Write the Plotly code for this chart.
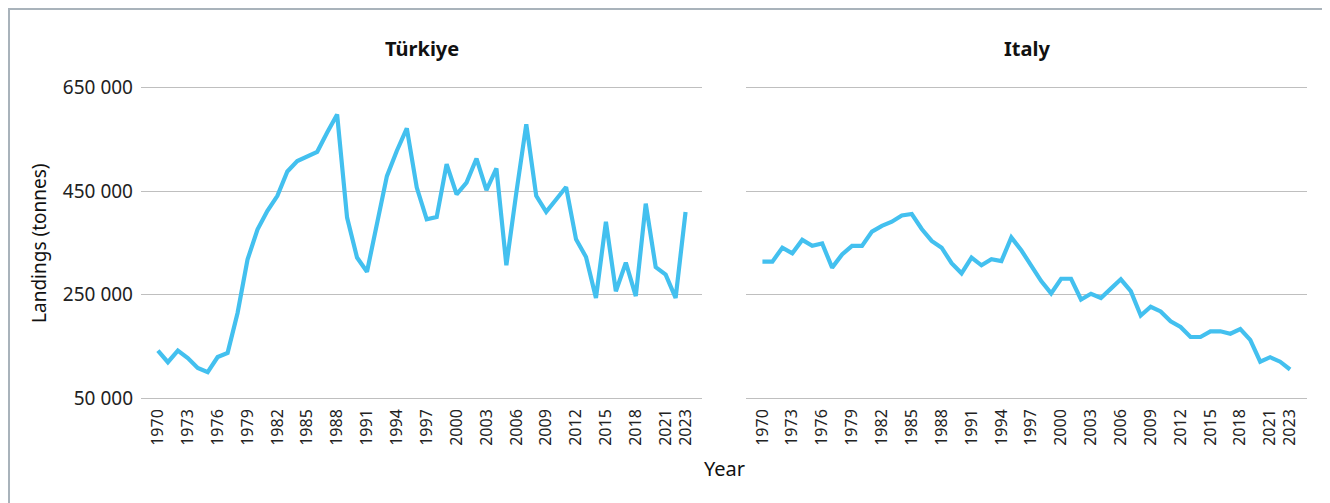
import plotly.graph_objects as go
from plotly.subplots import make_subplots

years = list(range(1970, 2024))

turkiye = [142500, 120000, 142500, 128000, 109000, 100700, 130000, 138000, 215000, 318000,
           376000, 412000, 441000, 488000, 508000, 516000, 526000, 563000, 598000, 399000,
           322000, 294500, 386000, 479000, 528000, 571000, 457000, 395600, 400000, 502000,
           444000, 466500, 513000, 452000, 494000, 307000, 447000, 579000, 441000, 410000,
           434000, 458000, 357000, 323000, 244000, 391000, 257000, 312000, 247500, 426000,
           303500, 289000, 244000, 410000]

italy = [314000, 314000, 341000, 330000, 356000, 344500, 349000, 302500, 328000, 344500,
         344500, 372000, 383000, 391000, 403000, 406000, 377000, 354000, 341000, 311000,
         291500, 322000, 307000, 318700, 315000, 360700, 336000, 307000, 276600, 252700,
         281000, 281000, 241000, 252000, 244000, 262000, 280000, 257000, 210000, 227000,
         218000, 199000, 188000, 168600, 168600, 179600, 179600, 175000, 184000, 163000,
         121000, 129700, 121000, 106000]

panel_titles = ["Türkiye", "Italy"]
year_ticks = list(range(1970, 2022, 3)) + [2023]
y_ticks = [50000, 250000, 450000, 650000]
y_labels = ["50 000", "250 000", "450 000", "650 000"]

line_color = "#43C0EF"
grid_color = "#BFBFBF"
font = "Noto Sans, Open Sans, sans-serif"

fig = make_subplots(rows=1, cols=2, horizontal_spacing=0.0369)

fig.add_trace(go.Scatter(x=years, y=turkiye, mode="lines",
                         line=dict(color=line_color, width=4.2)), row=1, col=1)
fig.add_trace(go.Scatter(x=years, y=italy, mode="lines",
                         line=dict(color=line_color, width=4.2)), row=1, col=2)

for c in (1, 2):
    fig.update_xaxes(range=[1968.3, 2024.7], tickvals=year_ticks, tickangle=-90,
                     showgrid=False, zeroline=False, showline=False,
                     tickfont=dict(size=16, color="#222222", family=font),
                     ticklabelstandoff=5, row=1, col=c)
    # a little padding so the 50 000 / 650 000 grid lines are still drawn
    fig.update_yaxes(range=[47100, 652900], tickvals=y_ticks, ticktext=y_labels,
                     showgrid=True, gridcolor=grid_color, gridwidth=1.3,
                     zeroline=False, showline=False,
                     showticklabels=(c == 1),
                     tickfont=dict(size=19, color="#222222", family=font),
                     ticklabelstandoff=7, row=1, col=c)

# panel titles
centers = [0.482 / 2, (0.5189 + 1) / 2]
for t, cx in zip(panel_titles, centers):
    fig.add_annotation(text="<b>" + t + "</b>", x=cx, y=1.118, xref="paper", yref="paper",
                       xanchor="center", yanchor="middle", showarrow=False,
                       font=dict(size=20, color="#111111", family=font))

fig.add_annotation(text="Year", x=0.5, y=-0.2197, xref="paper", yref="paper",
                   xanchor="center", yanchor="middle", showarrow=False,
                   font=dict(size=20, color="#111111", family=font))
fig.add_annotation(text="Landings (tonnes)", x=-0.0875, y=0.5, xref="paper", yref="paper",
                   xanchor="center", yanchor="middle", textangle=-90, showarrow=False,
                   font=dict(size=19, color="#111111", family=font))

# outer frame
fig.add_shape(type="rect", xref="paper", yref="paper",
              x0=-0.1132, x1=1.0172, y0=-0.4, y1=1.245,
              line=dict(color="#A9B3BB", width=2))

fig.update_layout(
    width=1322, height=495,
    margin=dict(l=133, r=23, t=78, b=103),
    paper_bgcolor="white", plot_bgcolor="white",
    showlegend=False,
    font=dict(family=font),
)

fig.write_html("out.html")
